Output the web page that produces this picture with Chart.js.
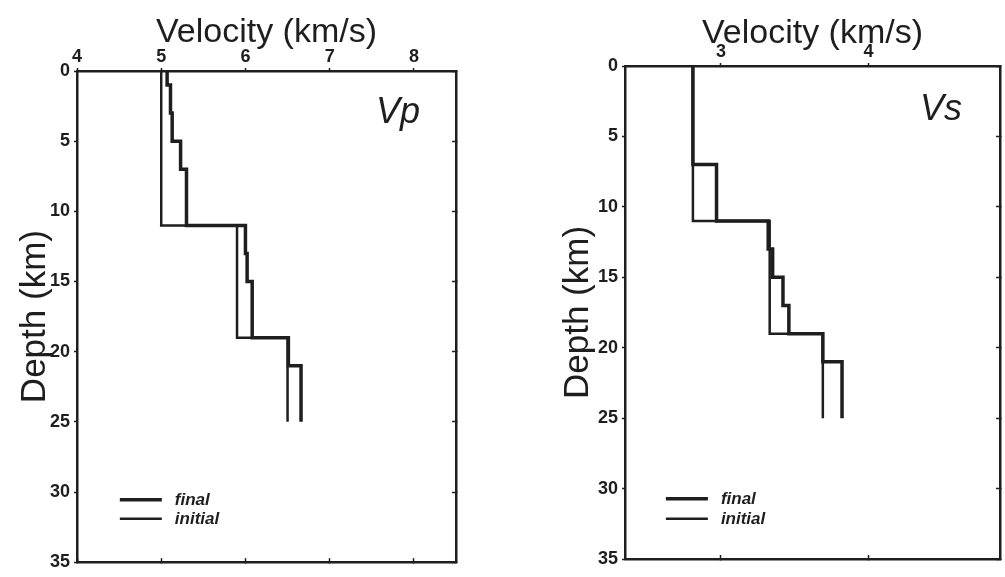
<!DOCTYPE html>
<html>
<head>
<meta charset="utf-8">
<script src="https://cdn.jsdelivr.net/npm/chart.js@4.4.1/dist/chart.umd.min.js"></script>
<style>
  html, body { margin: 0; padding: 0; background: #fff; }
  body { width: 1005px; height: 577px; position: relative; overflow: hidden; }
  canvas { position: absolute; top: 0; }
  #vpChart { left: 0; }
  #vsChart { left: 540px; }
</style>
</head>
<body>
<canvas id="vpChart" width="500" height="577"></canvas>
<canvas id="vsChart" width="465" height="577"></canvas>
<script>
// layer boundaries (km) and layer velocities (km/s)
const vpFinalDepth = [0, 1, 3, 5, 7, 11, 13, 15, 19, 21, 25];
const vpFinalVel = [5.07, 5.11, 5.13, 5.23, 5.3, 6.0, 6.02, 6.08, 6.51, 6.66];
const vpInitDepth = [0, 11, 19, 25];
const vpInitVel = [5.0, 5.9, 6.5];

const vsFinalDepth = [0, 7, 11, 13, 15, 17, 19, 21, 25];
const vsFinalVel = [2.81, 2.97, 3.32, 3.35, 3.42, 3.46, 3.69, 3.82];
const vsInitDepth = [0, 11, 19, 25];
const vsInitVel = [2.81, 3.33, 3.69];

const depthTicks = [0, 5, 10, 15, 20, 25, 30, 35];
const vpVelTicks = [4, 5, 6, 7, 8];
const vsVelTicks = [3, 4];

const FONT = "'Liberation Sans', Arial, Helvetica, sans-serif";
const INK = "#1e1e1e";

// turn a layered model into a staircase of points
function steps(depths, vels) {
  const pts = [];
  vels.forEach((v, i) => {
    pts.push({ x: v, y: depths[i] });
    pts.push({ x: v, y: depths[i + 1] });
  });
  return pts;
}

// legend + panel label drawn inside the plot box
const panelDecor = {
  id: "panelDecor",
  afterDatasetsDraw(chart, args, opts) {
    const { ctx, chartArea: a } = chart;
    ctx.save();
    ctx.font = "italic 36px " + FONT;
    ctx.fillStyle = INK;
    ctx.textAlign = "right";
    ctx.textBaseline = "alphabetic";
    ctx.fillText(opts.label, a.right - opts.labelDx, a.top + opts.labelDy);

    const x0 = a.left + a.width * opts.fx;
    let y = a.top + a.height * opts.fy;
    ctx.font = "italic bold 17px " + FONT;
    ctx.textAlign = "left";
    ctx.textBaseline = "middle";
    chart.data.datasets.forEach((ds) => {
      ctx.strokeStyle = ds.borderColor;
      ctx.lineWidth = ds.borderWidth;
      ctx.beginPath();
      ctx.moveTo(x0, y);
      ctx.lineTo(x0 + 42, y);
      ctx.stroke();
      ctx.fillText(ds.label, x0 + 55, y);
      y += opts.rowGap;
    });
    ctx.restore();
  },
};

function makeChart(id, cfg) {
  const fixed = (w, h) => (s) => {
    if (w != null) s.width = w;
    if (h != null) s.height = h;
  };
  const tickFont = { family: FONT, size: 18, weight: "bold" };
  const border = { display: true, color: INK, width: 2.5 };

  return new Chart(document.getElementById(id), {
    type: "scatter",
    data: {
      datasets: [
        {
          label: "final",
          data: steps(cfg.finalDepth, cfg.finalVel),
          showLine: true,
          borderColor: INK,
          borderWidth: 3.5,
          pointRadius: 0,
          tension: 0,
        },
        {
          label: "initial",
          data: steps(cfg.initDepth, cfg.initVel),
          showLine: true,
          borderColor: INK,
          borderWidth: 2.5,
          pointRadius: 0,
          tension: 0,
        },
      ],
    },
    options: {
      responsive: false,
      animation: false,
      layout: { padding: 0 },
      plugins: {
        legend: { display: false },
        tooltip: { enabled: false },
        panelDecor: cfg.decor,
      },
      scales: {
        x: {
          type: "linear",
          position: "top",
          min: cfg.xMin,
          max: cfg.xMax,
          afterBuildTicks: (s) => {
            s.ticks = cfg.velTicks.map((v) => ({ value: v }));
          },
          afterFit: fixed(null, cfg.top),
          border: border,
          grid: { drawOnChartArea: false, color: INK, tickLength: 3, tickWidth: 1.5 },
          ticks: { font: tickFont, color: INK, padding: 0 },
          title: {
            display: true,
            text: "Velocity (km/s)",
            color: INK,
            font: { family: FONT, size: 34 },
            padding: { top: cfg.xTitlePad, bottom: 0 },
          },
        },
        x2: {
          type: "linear",
          position: "bottom",
          min: cfg.xMin,
          max: cfg.xMax,
          afterBuildTicks: (s) => {
            s.ticks = cfg.velTicks.map((v) => ({ value: v }));
          },
          afterFit: fixed(null, cfg.bottom),
          border: border,
          grid: { drawOnChartArea: false, color: INK, tickLength: -4, tickWidth: 1.5 },
          ticks: { display: false },
        },
        y: {
          type: "linear",
          position: "left",
          reverse: true,
          min: 0,
          max: 35,
          afterBuildTicks: (s) => {
            s.ticks = depthTicks.map((v) => ({ value: v }));
          },
          afterFit: fixed(cfg.left, null),
          border: border,
          grid: { drawOnChartArea: false, color: INK, tickLength: 3, tickWidth: 1.5 },
          ticks: { font: tickFont, color: INK, padding: 4 },
          title: {
            display: true,
            text: "Depth (km)",
            color: INK,
            font: { family: FONT, size: 35 },
            padding: { top: cfg.yTitlePad, bottom: 0 },
          },
        },
        y2: {
          type: "linear",
          position: "right",
          reverse: true,
          min: 0,
          max: 35,
          afterBuildTicks: (s) => {
            s.ticks = depthTicks.map((v) => ({ value: v }));
          },
          afterFit: fixed(cfg.right, null),
          border: border,
          grid: { drawOnChartArea: false, color: INK, tickLength: -4, tickWidth: 1.5 },
          ticks: { display: false },
        },
      },
    },
    plugins: [panelDecor],
  });
}

makeChart("vpChart", {
  finalDepth: vpFinalDepth,
  finalVel: vpFinalVel,
  initDepth: vpInitDepth,
  initVel: vpInitVel,
  velTicks: vpVelTicks,
  xMin: 4,
  xMax: 8.5,
  top: 71,
  bottom: 9,
  left: 77,
  right: 44,
  xTitlePad: 12,
  yTitlePad: 14,
  decor: { label: "Vp", labelDx: 36, labelDy: 52, fx: 0.113, fy: 0.873, rowGap: 19 },
});

makeChart("vsChart", {
  finalDepth: vsFinalDepth,
  finalVel: vsFinalVel,
  initDepth: vsInitDepth,
  initVel: vsInitVel,
  velTicks: vsVelTicks,
  xMin: 2.35,
  xMax: 4.89,
  top: 66,
  bottom: 18,
  left: 85,
  right: 5,
  xTitlePad: 13,
  yTitlePad: 17,
  decor: { label: "Vs", labelDx: 38, labelDy: 54, fx: 0.109, fy: 0.878, rowGap: 20 },
});
</script>
</body>
</html>
